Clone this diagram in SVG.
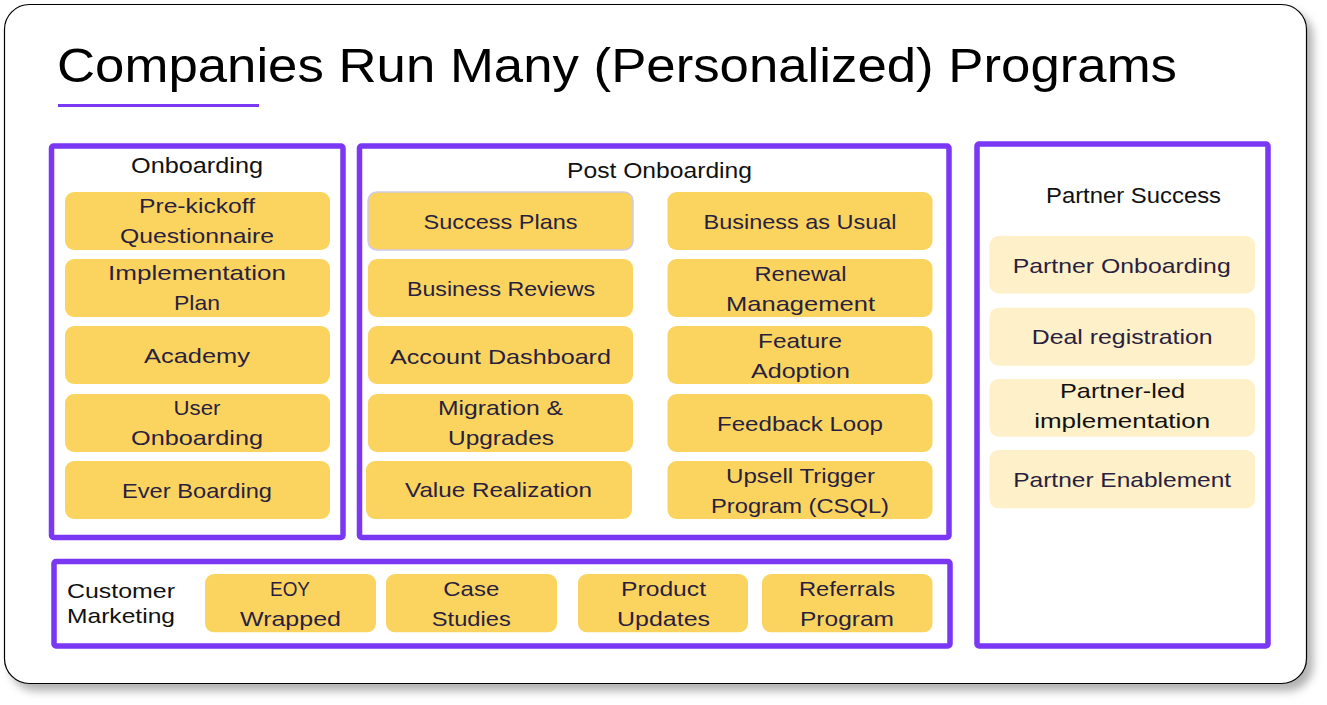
<svg xmlns="http://www.w3.org/2000/svg" width="1327" height="705" viewBox="0 0 1327 705">
<defs>
<filter id="sh" x="-5%" y="-5%" width="115%" height="115%">
<feDropShadow dx="6" dy="7" stdDeviation="4" flood-color="#000" flood-opacity="0.3"/>
</filter>
</defs>
<style>
.grp{fill:none;stroke:#7a37f4;stroke-width:5.5}
.it{fill:#fad45f}
.pt{fill:#fef0c8}
text{font-family:"Liberation Sans",Arial,sans-serif}
.t{font-size:21px;fill:#2a1f3f;text-anchor:middle}
.h{font-size:22px;fill:#111;text-anchor:middle}
</style>
<rect x="4.5" y="4.5" width="1302" height="679" rx="25" fill="#fff" stroke="#000" stroke-width="1.2" filter="url(#sh)"/>
<g id="title">
<text x="57" y="82" font-size="49" fill="#000" textLength="1120" lengthAdjust="spacingAndGlyphs">Companies Run Many (Personalized) Programs</text>
<line x1="58" y1="105.5" x2="259" y2="105.5" stroke="#7a37f4" stroke-width="3"/>
</g>
<g id="onboarding">
<rect class="grp" x="51.5" y="146" width="291.5" height="391.5" rx="2"/>
<text class="h" x="197" y="173" textLength="132" lengthAdjust="spacingAndGlyphs">Onboarding</text>
</g>
<g id="pre-kickoff"><rect class="it" x="65" y="192" width="265" height="58" rx="9"/>
<text class="t" x="197" y="213" textLength="116" lengthAdjust="spacingAndGlyphs">Pre-kickoff</text>
<text class="t" x="197" y="243" textLength="154" lengthAdjust="spacingAndGlyphs">Questionnaire</text></g>
<g id="implementation-plan"><rect class="it" x="65" y="259" width="265" height="58" rx="9"/>
<text class="t" x="197" y="280" textLength="178" lengthAdjust="spacingAndGlyphs">Implementation</text>
<text class="t" x="197" y="310" textLength="46" lengthAdjust="spacingAndGlyphs">Plan</text></g>
<g id="academy"><rect class="it" x="65" y="326" width="265" height="58" rx="9"/>
<text class="t" x="197" y="363" textLength="106" lengthAdjust="spacingAndGlyphs">Academy</text></g>
<g id="user-onboarding"><rect class="it" x="65" y="394" width="265" height="58" rx="9"/>
<text class="t" x="197" y="415" textLength="47" lengthAdjust="spacingAndGlyphs">User</text>
<text class="t" x="197" y="445" textLength="132" lengthAdjust="spacingAndGlyphs">Onboarding</text></g>
<g id="ever-boarding"><rect class="it" x="65" y="461" width="265" height="58" rx="9"/>
<text class="t" x="197" y="498" textLength="150" lengthAdjust="spacingAndGlyphs">Ever Boarding</text></g>

<g id="post-onboarding">
<rect class="grp" x="359.5" y="146" width="589.5" height="391.5" rx="2"/>
<text class="h" x="659.5" y="178" textLength="185" lengthAdjust="spacingAndGlyphs">Post Onboarding</text>
</g>
<g id="success-plans"><rect class="it" x="368" y="192" width="265" height="58" rx="9" stroke="#cfcbe6" stroke-width="1.5"/>
<text class="t" x="500.5" y="229" textLength="154" lengthAdjust="spacingAndGlyphs">Success Plans</text></g>
<g id="business-reviews"><rect class="it" x="368" y="259" width="265" height="58" rx="9"/>
<text class="t" x="501" y="296" textLength="188" lengthAdjust="spacingAndGlyphs">Business Reviews</text></g>
<g id="account-dashboard"><rect class="it" x="368" y="326" width="265" height="58" rx="9"/>
<text class="t" x="500.5" y="364" textLength="221" lengthAdjust="spacingAndGlyphs">Account Dashboard</text></g>
<g id="migration-upgrades"><rect class="it" x="368" y="394" width="265" height="58" rx="9"/>
<text class="t" x="500.5" y="415" textLength="125" lengthAdjust="spacingAndGlyphs">Migration &amp;</text>
<text class="t" x="501" y="445" textLength="106" lengthAdjust="spacingAndGlyphs">Upgrades</text></g>
<g id="value-realization"><rect class="it" x="366" y="461" width="266" height="58" rx="9"/>
<text class="t" x="498.5" y="497" textLength="187" lengthAdjust="spacingAndGlyphs">Value Realization</text></g>

<g id="business-as-usual"><rect class="it" x="667.5" y="192" width="265" height="58" rx="9"/>
<text class="t" x="800" y="229" textLength="193" lengthAdjust="spacingAndGlyphs">Business as Usual</text></g>
<g id="renewal-management"><rect class="it" x="667.5" y="259" width="265" height="58" rx="9"/>
<text class="t" x="800.5" y="281" textLength="92" lengthAdjust="spacingAndGlyphs">Renewal</text>
<text class="t" x="800.5" y="311" textLength="149" lengthAdjust="spacingAndGlyphs">Management</text></g>
<g id="feature-adoption"><rect class="it" x="667.5" y="326" width="265" height="58" rx="9"/>
<text class="t" x="800" y="348" textLength="84" lengthAdjust="spacingAndGlyphs">Feature</text>
<text class="t" x="800.5" y="378" textLength="99" lengthAdjust="spacingAndGlyphs">Adoption</text></g>
<g id="feedback-loop"><rect class="it" x="667.5" y="394" width="265" height="58" rx="9"/>
<text class="t" x="800" y="431" textLength="166" lengthAdjust="spacingAndGlyphs">Feedback Loop</text></g>
<g id="upsell-trigger"><rect class="it" x="667.5" y="461" width="265" height="58" rx="9"/>
<text class="t" x="800.5" y="483" textLength="149" lengthAdjust="spacingAndGlyphs">Upsell Trigger</text>
<text class="t" x="800" y="513" textLength="178" lengthAdjust="spacingAndGlyphs">Program (CSQL)</text></g>

<g id="partner-success">
<rect class="grp" x="977" y="144" width="291" height="502" rx="2"/>
<text class="h" x="1133.5" y="203" textLength="175" lengthAdjust="spacingAndGlyphs">Partner Success</text>
</g>
<g id="partner-onboarding"><rect class="pt" x="989.5" y="236" width="265.5" height="57.5" rx="9"/>
<text class="t" x="1121.7" y="273" textLength="218" lengthAdjust="spacingAndGlyphs">Partner Onboarding</text></g>
<g id="deal-registration"><rect class="pt" x="989.5" y="307.7" width="265.5" height="58" rx="9"/>
<text class="t" x="1122.2" y="344" textLength="181" lengthAdjust="spacingAndGlyphs">Deal registration</text></g>
<g id="partner-led"><rect class="pt" x="989.5" y="379" width="265.5" height="57.7" rx="9"/>
<text class="t" x="1122.5" y="398" textLength="125" lengthAdjust="spacingAndGlyphs" style="fill:#111">Partner-led</text>
<text class="t" x="1122.2" y="428" textLength="176" lengthAdjust="spacingAndGlyphs" style="fill:#111">implementation</text></g>
<g id="partner-enablement"><rect class="pt" x="989.5" y="450" width="265.5" height="58.3" rx="9"/>
<text class="t" x="1122.2" y="487" textLength="218" lengthAdjust="spacingAndGlyphs">Partner Enablement</text></g>

<g id="customer-marketing">
<rect class="grp" x="54" y="561.5" width="896" height="84.5" rx="2"/>
<text x="67" y="598" font-size="21" fill="#111" textLength="108" lengthAdjust="spacingAndGlyphs">Customer</text>
<text x="67" y="623" font-size="21" fill="#111" textLength="108" lengthAdjust="spacingAndGlyphs">Marketing</text>
</g>
<g id="eoy-wrapped"><rect class="it" x="205" y="574" width="171" height="58.3" rx="9"/>
<text class="t" x="290" y="596" textLength="40" lengthAdjust="spacingAndGlyphs">EOY</text>
<text class="t" x="290.5" y="626" textLength="101" lengthAdjust="spacingAndGlyphs">Wrapped</text></g>
<g id="case-studies"><rect class="it" x="386" y="574" width="171" height="58.3" rx="9"/>
<text class="t" x="471.3" y="596" textLength="56" lengthAdjust="spacingAndGlyphs">Case</text>
<text class="t" x="471.3" y="626" textLength="79" lengthAdjust="spacingAndGlyphs">Studies</text></g>
<g id="product-updates"><rect class="it" x="578" y="574" width="170" height="58.3" rx="9"/>
<text class="t" x="663.5" y="596" textLength="85" lengthAdjust="spacingAndGlyphs">Product</text>
<text class="t" x="663.5" y="626" textLength="93" lengthAdjust="spacingAndGlyphs">Updates</text></g>
<g id="referrals-program"><rect class="it" x="762" y="574" width="170.5" height="58.3" rx="9"/>
<text class="t" x="847" y="596" textLength="96" lengthAdjust="spacingAndGlyphs">Referrals</text>
<text class="t" x="847" y="626" textLength="94" lengthAdjust="spacingAndGlyphs">Program</text></g>
<g id="connectors"/>
</svg>
